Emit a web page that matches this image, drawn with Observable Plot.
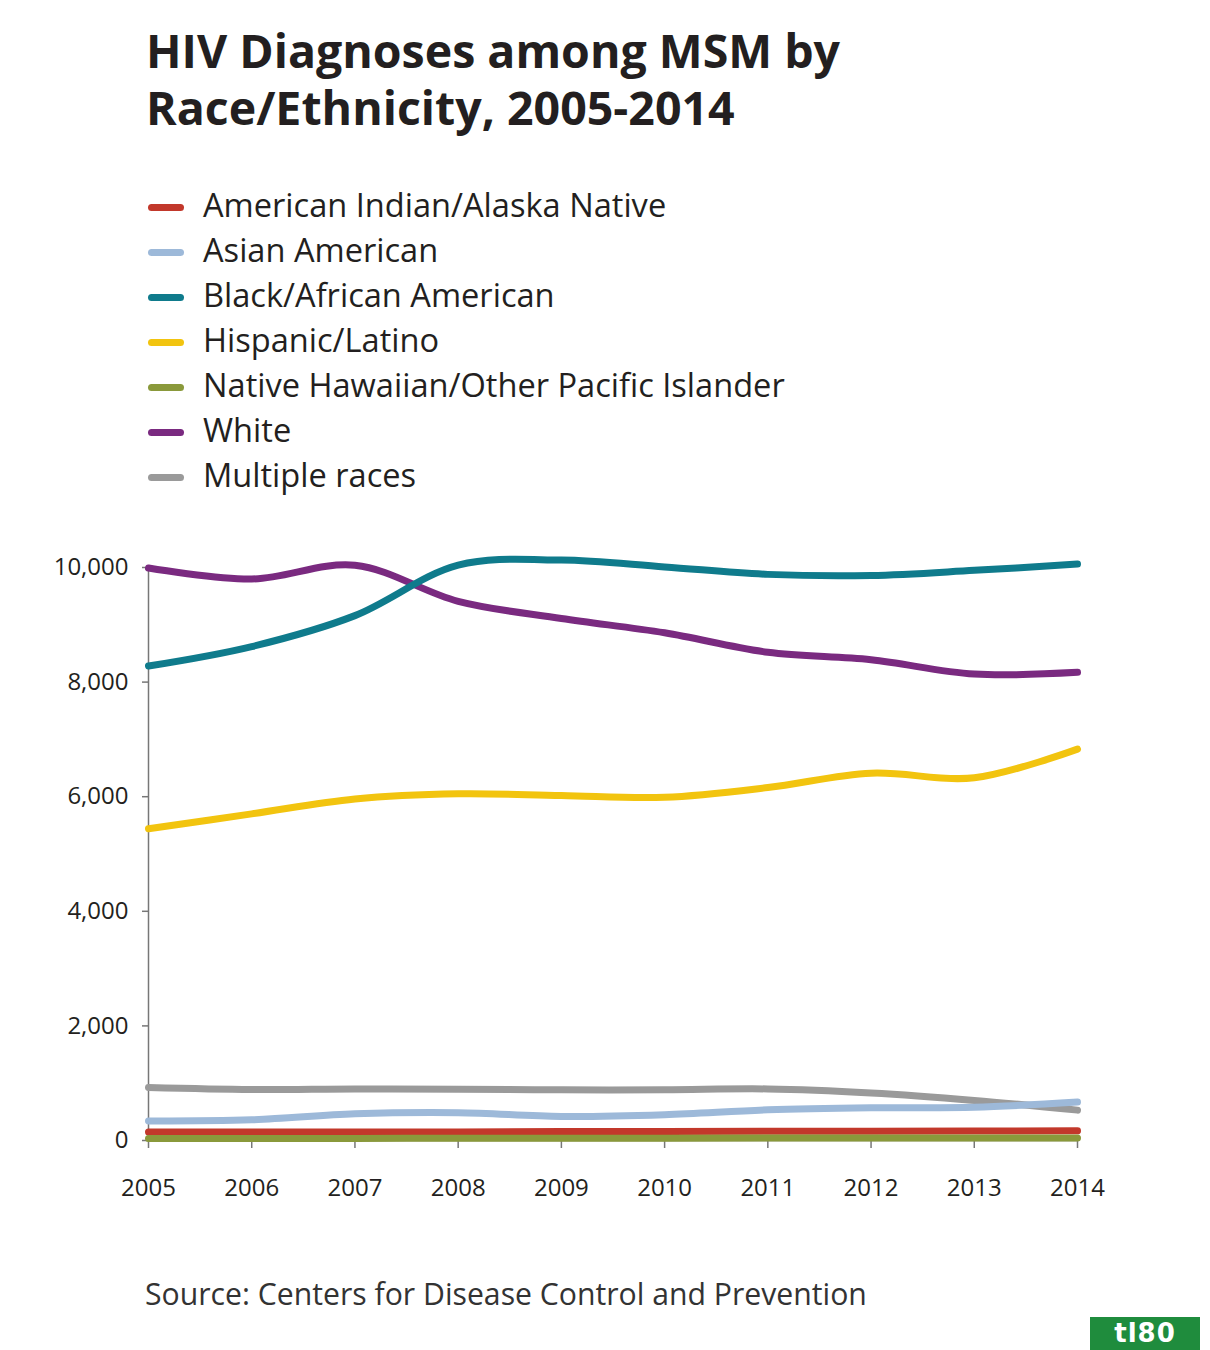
<!DOCTYPE html>
<html>
<head>
<meta charset="utf-8">
<script src="https://cdn.jsdelivr.net/npm/d3@7"></script>
<script src="https://cdn.jsdelivr.net/npm/@observablehq/plot@0.6"></script>
<style>
  html, body { margin: 0; padding: 0; background: #fff; }
  #page { position: relative; width: 1210px; height: 1350px; overflow: hidden; font-family: "Open Sans", sans-serif; color: #1a1a1a; }
  #title { position: absolute; left: 146px; top: 22px; font-size: 46.5px; line-height: 57px; font-weight: 700; color: #231f20; letter-spacing: 0px; white-space: nowrap; }
  #legend { position: absolute; left: 148px; top: 182px; }
  .row { display: flex; align-items: center; height: 45px; font-size: 32.6px; line-height: 45px; color: #231f20; white-space: nowrap; }
  .sw { width: 36px; height: 7px; border-radius: 4px; margin-right: 19px; position: relative; top: 3px; }
  #chart { position: absolute; left: 0; top: 540px; }
  #source { position: absolute; left: 145px; top: 1273px; font-size: 30.2px; line-height: 42px; color: #333; white-space: nowrap; }
  #logo { position: absolute; left: 1090px; top: 1317px; width: 110px; height: 33px; background: #1f8c3d; color: #fff; font-family: "DejaVu Sans", sans-serif; font-weight: 700; font-size: 26px; line-height: 33px; text-align: center; letter-spacing: 1px; }
</style>
</head>
<body>
<div id="page">
  <div id="title">HIV Diagnoses among MSM by<br>Race/Ethnicity, 2005-2014</div>
  <div id="legend"></div>
  <div id="chart"></div>
  <div id="source">Source: Centers for Disease Control and Prevention</div>
  <div id="logo">tl80</div>
</div>
<script>
// ---- Data ----
const years = [2005, 2006, 2007, 2008, 2009, 2010, 2011, 2012, 2013, 2014];
const groups = [
  "American Indian/Alaska Native",
  "Asian American",
  "Black/African American",
  "Hispanic/Latino",
  "Native Hawaiian/Other Pacific Islander",
  "White",
  "Multiple races"
];
const colors = ["#c2382b", "#9db9d9", "#0f7b8c", "#f2c40f", "#8a993b", "#7a2a80", "#9a9a9a"];
const aian     = [150, 150, 150, 150, 155, 155, 160, 160, 165, 168];
const asian    = [340, 360, 465, 485, 420, 450, 535, 570, 580, 670];
const black    = [8280, 8620, 9160, 10040, 10130, 10010, 9880, 9860, 9950, 10060];
const hispanic = [5440, 5700, 5960, 6050, 6020, 5990, 6160, 6410, 6330, 6830];
const nhopi    = [35, 35, 35, 40, 40, 40, 45, 45, 45, 45];
const white    = [9990, 9800, 10040, 9410, 9110, 8860, 8520, 8390, 8140, 8170];
const multiple = [925, 890, 900, 895, 885, 885, 900, 830, 700, 530];
const yTicks = [0, 2000, 4000, 6000, 8000, 10000];

const seriesValues = [aian, asian, black, hispanic, nhopi, white, multiple];
// drawing order in the reference (later lines drawn on top)
const drawOrder = [6, 1, 0, 4, 3, 5, 2];

const data = [];
drawOrder.forEach(gi => {
  years.forEach((yr, i) => data.push({year: yr, value: seriesValues[gi][i], group: groups[gi]}));
});

// ---- Legend (HTML, above the SVG) ----
const legend = document.getElementById("legend");
groups.forEach((g, i) => {
  const row = document.createElement("div");
  row.className = "row";
  const sw = document.createElement("span");
  sw.className = "sw";
  sw.style.background = colors[i];
  const t = document.createElement("span");
  t.textContent = g;
  row.appendChild(sw);
  row.appendChild(t);
  legend.appendChild(row);
});

// ---- Chart ----
const chart = Plot.plot({
  width: 1210,
  height: 680,
  marginLeft: 148,
  marginRight: 133,
  marginTop: 27,
  marginBottom: 80,
  style: { fontFamily: "'Open Sans', sans-serif", fontSize: "24px", color: "#231f20", background: "#fff", overflow: "visible" },
  x: { type: "linear", domain: [2005, 2014] },
  y: { domain: [0, 10000] },
  color: { domain: groups, range: colors },
  marks: [
    Plot.frame({ anchor: "left", stroke: "#777", strokeWidth: 1.5 }),
    Plot.frame({ anchor: "bottom", stroke: "#777", strokeWidth: 1.5 }),
    Plot.axisY({ ticks: yTicks, tickFormat: d3.format(","), tickSize: 6, tickPadding: 14, stroke: "#777", strokeWidth: 1.5, label: null }),
    Plot.axisX({ ticks: years, tickFormat: d => String(d), tickSize: 8, tickPadding: 30, stroke: "#777", strokeWidth: 1.5, label: null }),
    Plot.line(data, {
      x: "year", y: "value", z: "group", stroke: "group",
      strokeWidth: 7, strokeLinecap: "round", strokeLinejoin: "round",
      curve: "catmull-rom"
    })
  ]
});
document.getElementById("chart").appendChild(chart);
</script>
</body>
</html>
